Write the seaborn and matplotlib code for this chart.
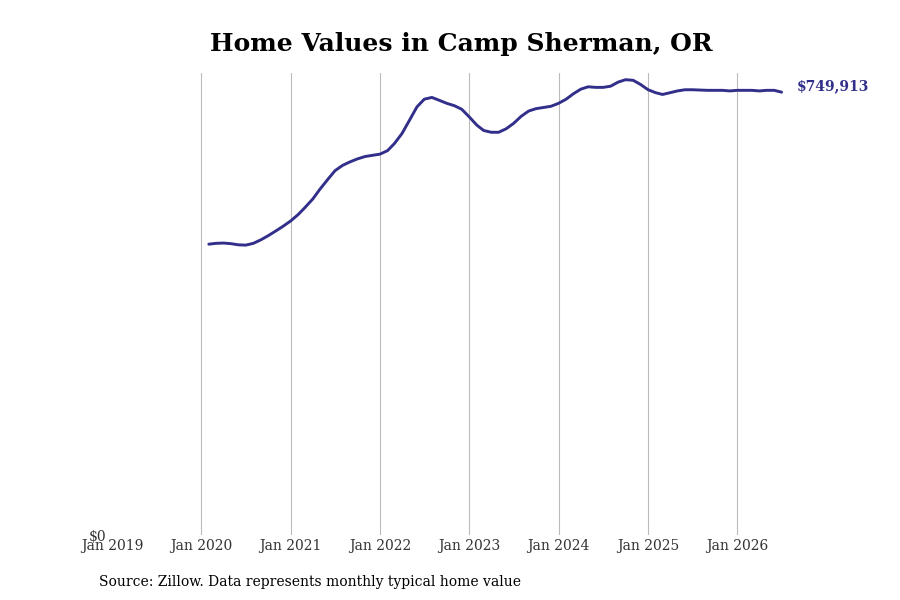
import matplotlib
matplotlib.use("Agg")
import matplotlib.pyplot as plt
import seaborn as sns
import pandas as pd
import numpy as np

title = "Home Values in Camp Sherman, OR"
source = "Source: Zillow. Data represents monthly typical home value"
start_month = "2020-02-01"
values_k = [
    492.6, 494.0, 494.5, 493.5, 491.5, 491.0, 494.0, 500.0, 507.0, 515.0, 523.0,
    532.0, 543.0, 555.0, 569.0, 586.0, 602.0, 617.0, 626.0, 632.0, 637.0, 641.0, 643.0,
    645.0, 651.0, 663.0, 680.0, 702.0, 725.0, 738.0, 741.0, 736.0, 731.0, 727.0, 721.0,
    708.0, 694.0, 685.0, 682.0, 682.0, 688.0, 697.0, 709.0, 718.0, 722.0, 724.0, 726.0,
    731.0, 738.0, 747.0, 755.0, 759.0, 758.0, 758.0, 760.0, 767.0, 771.0, 770.0, 763.0,
    754.0, 749.0, 746.0, 749.0, 752.0, 754.0, 754.0, 753.5, 753.0, 753.0, 753.0, 752.0,
    753.0, 753.0, 753.0, 752.0, 753.0, 753.0, 749.913,
]
tick_years = list(range(2019, 2027))

dates = pd.date_range(start_month, periods=len(values_k), freq="MS")
df = pd.DataFrame({"date": dates, "value": np.array(values_k) * 1000})

sns.set_theme(style="white")
plt.rcParams["font.family"] = ["DejaVu Serif"]
line_color = "#322f8a"

fig = plt.figure(figsize=(9, 6), dpi=100)
ax = fig.add_axes([0.1244, 0.108, 0.7715, 0.77])
sns.lineplot(data=df, x="date", y="value", ax=ax, color=line_color, linewidth=2.1)

ax.set_xlim(pd.Timestamp("2019-01-01"), pd.Timestamp("2026-10-10"))
ax.set_ylim(0, 782000)
ticks = [pd.Timestamp(f"{y}-01-01") for y in tick_years]
ax.set_xticks(ticks)
ax.set_xticklabels([f"Jan {y}" for y in tick_years], fontsize=10, color="#333333")
ax.set_yticks([0])
ax.set_yticklabels(["$0"], fontsize=10, color="#333333")
ax.tick_params(axis="both", length=0, pad=3)
ax.tick_params(axis="y", pad=4)
ax.grid(axis="x", color="#bbbbbb", linewidth=0.8)
ax.get_xgridlines()[0].set_visible(False)
for s in ax.spines.values():
    s.set_visible(False)
ax.set_xlabel("")
ax.set_ylabel("")

last_date = df["date"].iloc[-1]
last_val = df["value"].iloc[-1]
ax.annotate(f"${last_val:,.0f}", xy=(last_date, last_val), xytext=(11, 4),
            textcoords="offset points", fontsize=10, fontweight="bold",
            color=line_color, va="center", ha="left", annotation_clip=False)

fig.text(0.5122, 0.927, title, ha="center", va="center", fontsize=18,
         fontweight="bold", color="black")
fig.text(0.11, 0.03, source, ha="left", va="center", fontsize=10, color="black")

fig.savefig("out.png", dpi=100)
